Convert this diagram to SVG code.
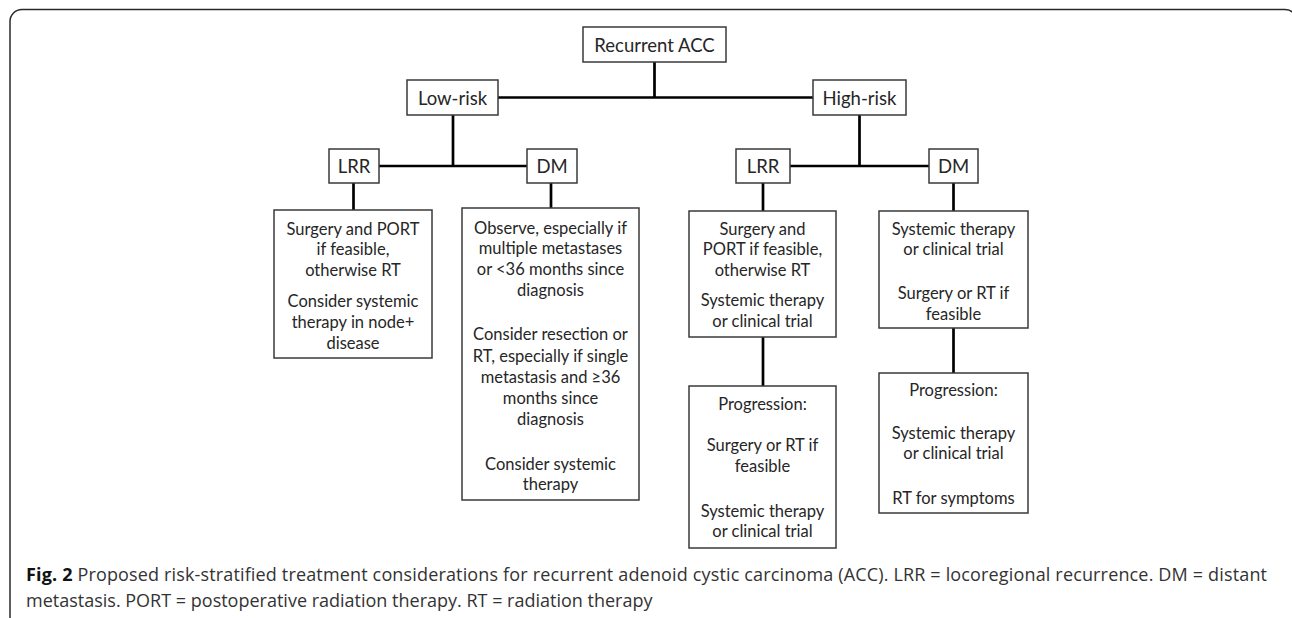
<svg xmlns="http://www.w3.org/2000/svg" width="1292" height="618" viewBox="0 0 1292 618">
<style>
.box{fill:#fff;stroke:#3a3a3a;stroke-width:1.5}
.t{font-family:Lato,"Open Sans","Liberation Sans",sans-serif;font-size:16.5px;fill:#262626;text-anchor:middle}
.h{font-family:Lato,"Open Sans","Liberation Sans",sans-serif;font-size:18.5px;fill:#262626;text-anchor:middle}
.c{stroke:#000;stroke-width:2.7;fill:none}
.cap{font-family:"Open Sans","Liberation Sans",sans-serif;font-size:18px;fill:#333}
</style>
<rect x="10" y="9.5" width="1287" height="620" rx="12" fill="#fff" stroke="#2a2a2a" stroke-width="1.5"/>
<g id="connectors">
<path class="c" d="M654.5 62V97.5M498 97.5H813"/>
<path class="c" d="M453 115V166M379 166H527"/>
<path class="c" d="M859.5 115V166M790 166H929"/>
<path class="c" d="M353.5 183V210"/>
<path class="c" d="M551 183V208"/>
<path class="c" d="M763 183V211"/>
<path class="c" d="M953.5 183V211"/>
<path class="c" d="M763 337V386"/>
<path class="c" d="M953.5 328V373"/>
</g>
<g id="recurrent"><rect class="box" x="583" y="27" width="143" height="35"/><text class="h" x="654.5" y="52">Recurrent ACC</text></g>
<g id="lowrisk"><rect class="box" x="407" y="80" width="91" height="35"/><text class="h" x="452.5" y="104.5">Low-risk</text></g>
<g id="highrisk"><rect class="box" x="813" y="80" width="93" height="35"/><text class="h" x="859.5" y="104.5">High-risk</text></g>
<g id="lrr-low"><rect class="box" x="329" y="149" width="50" height="34"/><text class="h" x="354" y="173">LRR</text></g>
<g id="dm-low"><rect class="box" x="527" y="149" width="50" height="34"/><text class="h" x="552" y="173">DM</text></g>
<g id="lrr-high"><rect class="box" x="736" y="149" width="54" height="34"/><text class="h" x="763" y="173">LRR</text></g>
<g id="dm-high"><rect class="box" x="929" y="149" width="49" height="34"/><text class="h" x="953.5" y="173">DM</text></g>
<g id="lrr-low-tx"><rect class="box" x="274" y="210" width="158" height="148"/>
<text class="t" x="353" y="234.5">Surgery and PORT</text>
<text class="t" x="353" y="255">if feasible,</text>
<text class="t" x="353" y="276">otherwise RT</text>
<text class="t" x="353" y="307">Consider systemic</text>
<text class="t" x="353" y="328">therapy in node+</text>
<text class="t" x="353" y="348.5">disease</text>
</g>
<g id="dm-low-tx"><rect class="box" x="462" y="208" width="177" height="292"/>
<text class="t" x="550.5" y="233.5">Observe, especially if</text>
<text class="t" x="550.5" y="254">multiple metastases</text>
<text class="t" x="550.5" y="275">or &lt;36 months since</text>
<text class="t" x="550.5" y="295.5">diagnosis</text>
<text class="t" x="550.5" y="340">Consider resection or</text>
<text class="t" x="550.5" y="361.5">RT, especially if single</text>
<text class="t" x="550.5" y="382.5">metastasis and ≥36</text>
<text class="t" x="550.5" y="403.5">months since</text>
<text class="t" x="550.5" y="424.5">diagnosis</text>
<text class="t" x="550.5" y="469.5">Consider systemic</text>
<text class="t" x="550.5" y="490">therapy</text>
</g>
<g id="lrr-high-tx"><rect class="box" x="689" y="211" width="147" height="126"/>
<text class="t" x="762.5" y="234.5">Surgery and</text>
<text class="t" x="762.5" y="255">PORT if feasible,</text>
<text class="t" x="762.5" y="275.5">otherwise RT</text>
<text class="t" x="762.5" y="306">Systemic therapy</text>
<text class="t" x="762.5" y="326.5">or clinical trial</text>
</g>
<g id="lrr-high-prog"><rect class="box" x="689" y="386" width="147" height="162"/>
<text class="t" x="762.5" y="409.5">Progression:</text>
<text class="t" x="762.5" y="450.5">Surgery or RT if</text>
<text class="t" x="762.5" y="471.5">feasible</text>
<text class="t" x="762.5" y="516.5">Systemic therapy</text>
<text class="t" x="762.5" y="537">or clinical trial</text>
</g>
<g id="dm-high-tx"><rect class="box" x="879" y="211" width="149" height="117"/>
<text class="t" x="953.5" y="234.5">Systemic therapy</text>
<text class="t" x="953.5" y="254.5">or clinical trial</text>
<text class="t" x="953.5" y="298.5">Surgery or RT if</text>
<text class="t" x="953.5" y="319.5">feasible</text>
</g>
<g id="dm-high-prog"><rect class="box" x="879" y="373" width="149" height="140"/>
<text class="t" x="953.5" y="396">Progression:</text>
<text class="t" x="953.5" y="438.5">Systemic therapy</text>
<text class="t" x="953.5" y="459">or clinical trial</text>
<text class="t" x="953.5" y="503.5">RT for symptoms</text>
</g>
<g id="caption">
<text class="cap" x="26" y="581" textLength="1241" lengthAdjust="spacing"><tspan font-weight="bold" fill="#111">Fig. 2</tspan> Proposed risk-stratified treatment considerations for recurrent adenoid cystic carcinoma (ACC). LRR = locoregional recurrence. DM = distant</text>
<text class="cap" x="26" y="607">metastasis. PORT = postoperative radiation therapy. RT = radiation therapy</text>
</g>
</svg>
